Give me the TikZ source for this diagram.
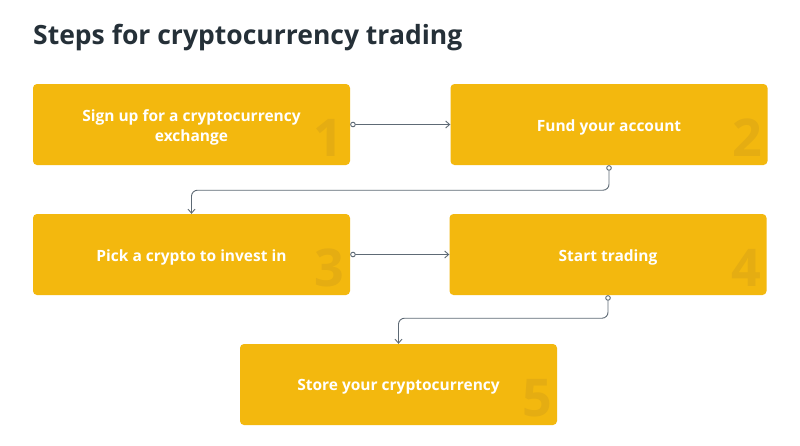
\documentclass[tikz,border=0pt]{standalone}
\usepackage{fontspec}
\setmainfont{Open Sans}
\usetikzlibrary{positioning,arrows.meta}
\definecolor{stepyellow}{HTML}{F3B80E}
\definecolor{digityellow}{HTML}{E5AD12}
\definecolor{linkgray}{HTML}{5E6A75}
\definecolor{titlegray}{HTML}{253038}
\tikzset{
  step box/.style={fill=stepyellow,rounded corners=4pt,minimum width=317pt,
    minimum height=81pt,inner sep=0pt},
  step text/.style={align=center,text=white,inner sep=0pt,
    font=\fontsize{15.5}{20}\selectfont\bfseries},
  digit/.style={text=digityellow,inner sep=0pt,anchor=base east,
    font=\fontsize{52}{52}\selectfont\bfseries},
  link/.style={draw=linkgray,line width=0.9pt,rounded corners=6pt,
    arrows={Circle[open,length=5.5pt,width=5.5pt,fill=white]-Straight Barb[length=4pt,width=7pt]}}
}
\begin{document}
\begin{tikzpicture}[x=1pt,y=-1pt]
  \useasboundingbox[fill=white] (0,0) rectangle (800,445);
  \node[anchor=base west,text=titlegray,inner sep=0pt,
        font=\fontsize{26.5}{28}\selectfont\bfseries] (title) at (33,44)
        {Steps for cryptocurrency trading};
  % the five steps
  \node[step box] (s1) at (191.5,124.5) {};
  \node[step box] (s2) at (609,124.5) {};
  \node[step box] (s3) at (191.5,254.5) {};
  \node[step box] (s4) at (608,254.5) {};
  \node[step box] (s5) at (398.5,384.5) {};
  \node[digit] (d1) at ([xshift=-7pt,yshift=9pt]s1.south east) {1};
  \node[digit] (d2) at ([xshift=-5pt,yshift=9pt]s2.south east) {2};
  \node[digit] (d3) at ([xshift=-6pt,yshift=9pt]s3.south east) {3};
  \node[digit] (d4) at ([xshift=-5pt,yshift=9pt]s4.south east) {4};
  \node[digit] (d5) at ([xshift=-5pt,yshift=9pt]s5.south east) {5};
  \node[step text] (t1) at ([yshift=-2.5pt]s1) {Sign up for a cryptocurrency\\exchange};
  \node[step text] (t2) at ([yshift=-2.5pt]s2) {Fund your account};
  \node[step text] (t3) at ([yshift=-2.5pt]s3) {Pick a crypto to invest in};
  \node[step text] (t4) at ([yshift=-2.5pt]s4) {Start trading};
  \node[step text] (t5) at ([yshift=-2.5pt]s5) {Store your cryptocurrency};
  % connectors
  \draw[link] (s1.east) -- (s2.west);
  \draw[link] (s2.south) -- ++(0,25) -| (s3.north);
  \draw[link] (s3.east) -- (s4.west);
  \draw[link] (s4.south) -- ++(0,23) -| (s5.north);
\end{tikzpicture}
\end{document}
